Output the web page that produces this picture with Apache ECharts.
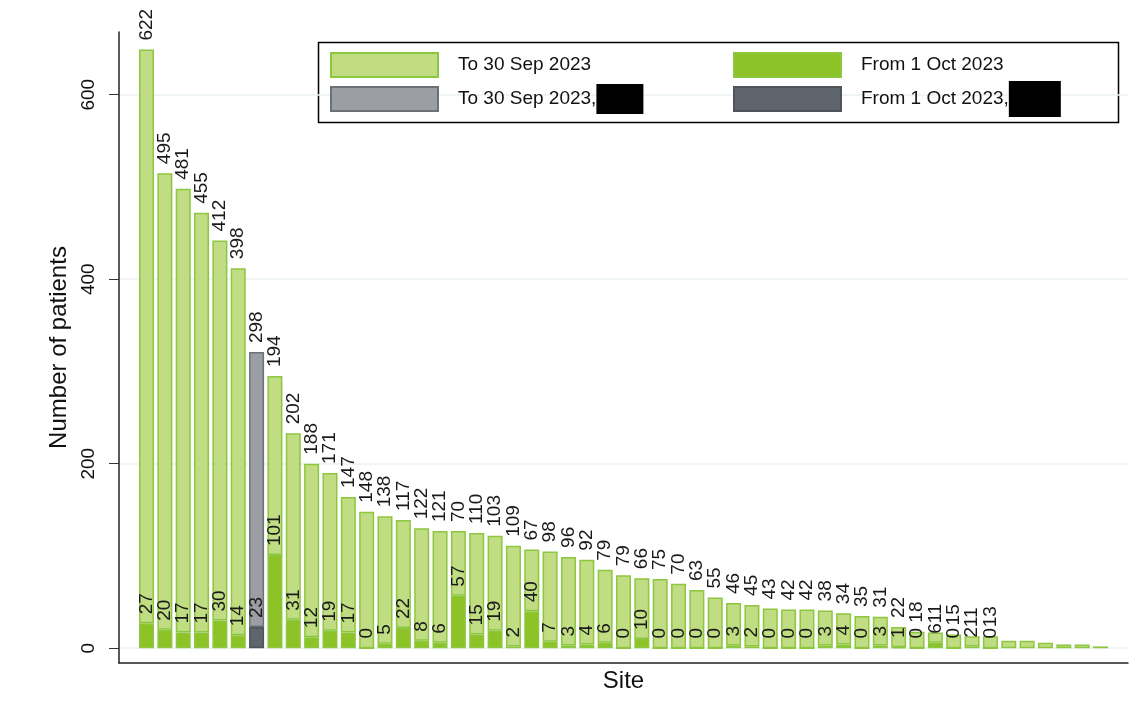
<!DOCTYPE html>
<html>
<head>
<meta charset="utf-8">
<script src="https://cdn.jsdelivr.net/npm/echarts@6/dist/echarts.min.js"></script>
<style>html,body{margin:0;padding:0;background:#fff}#c{width:1145px;height:715px}</style>
</head>
<body>
<div id="c"></div>
<script>
// Patients per site, sorted by total (site number = position, 1-based)
const toSep = [622,495,481,455,412,398,298,194,202,188,171,147,148,138,117,122,121,70,110,103,109,67,98,96,92,79,79,66,75,70,63,55,46,45,43,42,42,38,34,35,31,22,18,11,15,11,13];
const fromOct = [27,20,17,17,30,14,23,101,31,12,19,17,0,5,22,8,6,57,15,19,2,40,7,3,4,6,0,10,0,0,0,0,3,2,0,0,0,3,4,0,3,1,0,6,0,2,0];
// Trailing small sites drawn without value labels
const unlabelledTotals = [8,8,6,4,4,2];
const redactedSite = 7;
const yTicks = [0,200,400,600];
const seriesNames = ['To 30 Sep 2023','From 1 Oct 2023','To 30 Sep 2023, (redacted)','From 1 Oct 2023, (redacted)'];

const nSites = toSep.length + unlabelledTotals.length;
const sites = Array.from({length:nSites}, (_,i)=>String(i+1));

const FONT = '"Liberation Sans", Arial, sans-serif';
const C = {
  lightFill:'#c1dd83', green:'#8dc63f', darkFill:'#8dc326',
  grayFill:'#9b9fa3', grayBorder:'#6c7177', dgrayFill:'#5e656c', dgrayBorder:'#4d5359'
};
const labelStyle = {show:true, position:'top', rotate:90, align:'left', verticalAlign:'middle', distance:9, fontSize:19, color:'#1a1a1a', fontFamily:FONT};

const isRed = i => (i+1) === redactedSite;
const fromOctData = sites.map((s,i)=> i < fromOct.length ? (isRed(i) ? '-' : fromOct[i]) : '-');
const fromOctRedData = sites.map((s,i)=> isRed(i) ? fromOct[i] : '-');
const toSepData = sites.map((s,i)=> i < toSep.length ? (isRed(i) ? '-' : toSep[i])
  : {value: unlabelledTotals[i - toSep.length], label:{show:false}});
const toSepRedData = sites.map((s,i)=> isRed(i) ? toSep[i] : '-');

const common = {type:'bar', stack:'total', barWidth:15, label:labelStyle};
const chart = echarts.init(document.getElementById('c'), null, {renderer:'canvas'});
const legendBase = {orient:'horizontal', padding:0, itemWidth:107, itemHeight:24, icon:'rect',
  textStyle:{fontSize:19, color:'#111', fontFamily:FONT,
    rich:{a:{fontSize:19, color:'#111', fontFamily:FONT, padding:[0,0,0,15]}, k:{width:47, height:30, backgroundColor:'#000'}, k2:{width:52, height:36, backgroundColor:'#000'}}}};
chart.setOption({
  animation:false,
  backgroundColor:'#fff',
  grid:{left:119, right:17, top:32, bottom:52},
  graphic:[{type:'rect', left:316, top:40, shape:{width:800, height:80}, style:{fill:'none', stroke:'#000', lineWidth:1.5}, z:0}],
  legend:[
    Object.assign({}, legendBase, {data:[seriesNames[0]], left:330, top:52, formatter:n=>'{a|'+n+'}'}),
    Object.assign({}, legendBase, {data:[seriesNames[1]], left:733, top:52, formatter:n=>'{a|'+n+'}'}),
    Object.assign({}, legendBase, {data:[seriesNames[2]], left:330, top:84, formatter:n=>'{a|' + n.split(', ')[0] + ',}{k| }'}),
    Object.assign({}, legendBase, {data:[seriesNames[3]], left:733, top:81, formatter:n=>'{a|' + n.split(', ')[0] + ',}{k2| }'})
  ],
  xAxis:{type:'category', data:sites, min:-1, max:nSites, boundaryGap:true, name:'Site', nameLocation:'middle', nameGap:6,
    nameTextStyle:{fontSize:24, color:'#111', fontFamily:FONT},
    axisLine:{onZero:false, lineStyle:{color:'#222', width:1.5}}, axisTick:{show:false}, axisLabel:{show:false}, splitLine:{show:false}},
  yAxis:{type:'value', min:-16, max:668, name:'Number of patients', nameLocation:'middle', nameGap:46,
    nameTextStyle:{fontSize:24, color:'#111', fontFamily:FONT},
    axisLine:{show:true, lineStyle:{color:'#222', width:1.5}},
    axisTick:{show:true, length:10, customValues:yTicks, lineStyle:{color:'#333'}},
    axisLabel:{rotate:90, fontSize:19, color:'#111', fontFamily:FONT, margin:21, customValues:yTicks},
    splitLine:{show:true, lineStyle:{color:'#eaf1f4', width:1.5}}},
  series:[
    Object.assign({}, common, {name:seriesNames[1], data:fromOctData, itemStyle:{color:C.darkFill, borderColor:C.green, borderWidth:1.5}}),
    Object.assign({}, common, {name:seriesNames[3], data:fromOctRedData, itemStyle:{color:C.dgrayFill, borderColor:C.dgrayBorder, borderWidth:1.5}}),
    Object.assign({}, common, {name:seriesNames[0], data:toSepData, itemStyle:{color:C.lightFill, borderColor:C.green, borderWidth:1.5}}),
    Object.assign({}, common, {name:seriesNames[2], data:toSepRedData, itemStyle:{color:C.grayFill, borderColor:C.grayBorder, borderWidth:1.5}})
  ]
});
</script>
</body>
</html>
